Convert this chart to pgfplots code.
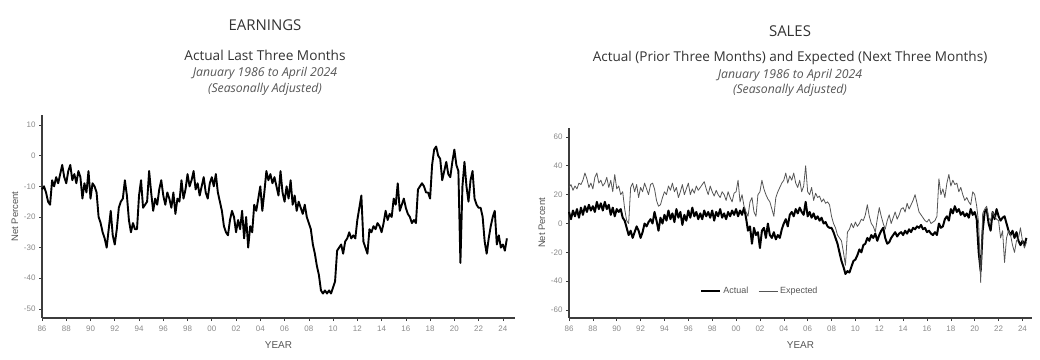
\documentclass[border=0pt]{standalone}
\usepackage{pgfplots}
\pgfplotsset{compat=1.18}
\usepackage{pgfplotstable}
\usepackage{fontspec}
\setmainfont{Open Sans}
\newfontfamily\arial{Liberation Sans}
\definecolor{ttl}{HTML}{333333}
\definecolor{sub}{HTML}{555555}
\definecolor{tick}{HTML}{8A8A8A}
\definecolor{axl}{HTML}{3C3C3C}
\definecolor{expc}{HTML}{555555}

% Earnings, net percent, 6 readings per year from Jan 1986
\pgfplotstableread[header=false,row sep=\\]{
-11\\-10\\-12\\-15\\-16\\-8\\
-10\\-7\\-9\\-6\\-3\\-7\\
-9\\-5\\-3\\-8\\-6\\-9\\
-5\\-7\\-14\\-9\\-12\\-5\\
-14\\-9\\-10\\-12\\-20\\-22\\
-25\\-27\\-30\\-24\\-18\\-26\\
-29\\-24\\-17\\-15\\-14\\-8\\
-13\\-21\\-25\\-22\\-24\\-24\\
-13\\-8\\-17\\-16\\-15\\-5\\
-12\\-18\\-14\\-16\\-11\\-8\\
-13\\-16\\-12\\-14\\-17\\-12\\
-19\\-14\\-15\\-8\\-14\\-11\\
-6\\-10\\-8\\-5\\-11\\-9\\
-13\\-10\\-7\\-12\\-14\\-9\\
-7\\-10\\-6\\-12\\-15\\-18\\
-23\\-25\\-26\\-21\\-18\\-20\\
-25\\-21\\-24\\-18\\-27\\-20\\
-30\\-23\\-25\\-16\\-18\\-14\\
-10\\-18\\-12\\-5\\-8\\-6\\
-9\\-7\\-10\\-13\\-5\\-12\\
-15\\-10\\-14\\-8\\-16\\-13\\
-18\\-15\\-17\\-19\\-16\\-20\\
-22\\-24\\-29\\-32\\-36\\-39\\
-44\\-45\\-44\\-45\\-44\\-45\\
-43\\-41\\-31\\-30\\-29\\-32\\
-28\\-27\\-25\\-27\\-26\\-27\\
-21\\-17\\-13\\-28\\-30\\-32\\
-24\\-25\\-23\\-24\\-22\\-23\\
-25\\-22\\-18\\-21\\-19\\-20\\
-14\\-16\\-9\\-18\\-16\\-14\\
-17\\-19\\-20\\-22\\-21\\-22\\
-11\\-10\\-9\\-10\\-12\\-12\\
-14\\-3\\2\\3\\0\\-1\\
-8\\-5\\-2\\-6\\-7\\-2\\
2\\-3\\-5\\-35\\-10\\-2\\
-10\\-15\\-8\\-5\\-14\\-16\\
-17\\-17\\-20\\-28\\-32\\-27\\
-23\\-20\\-18\\-29\\-26\\-30\\
-29\\-31\\-27\\
}\earn

% Sales actual
\pgfplotstableread[header=false,row sep=\\]{
8\\3\\9\\5\\10\\4\\
11\\6\\12\\8\\13\\9\\
12\\8\\15\\10\\14\\9\\
15\\10\\13\\6\\11\\5\\
10\\8\\10\\4\\2\\-3\\
-8\\-5\\-10\\-6\\-2\\-5\\
-10\\-6\\0\\-2\\1\\3\\
0\\8\\2\\-5\\4\\0\\
6\\2\\9\\3\\7\\1\\
10\\4\\8\\-1\\6\\2\\
9\\4\\11\\5\\8\\3\\
7\\3\\9\\5\\8\\4\\
9\\2\\8\\5\\10\\4\\
7\\3\\8\\5\\9\\6\\
10\\5\\9\\6\\11\\4\\
-5\\-2\\-14\\-3\\-8\\-6\\
-17\\-5\\-3\\-10\\0\\-8\\
-10\\-6\\-11\\-8\\-10\\-4\\
0\\3\\-2\\6\\8\\5\\
10\\7\\11\\8\\6\\15\\
5\\8\\4\\7\\3\\5\\
2\\4\\0\\1\\-2\\-3\\
-3\\-6\\-10\\-14\\-20\\-26\\
-30\\-35\\-33\\-34\\-30\\-26\\
-25\\-22\\-18\\-20\\-15\\-14\\
-10\\-12\\-8\\-10\\-7\\-12\\
-8\\-5\\-3\\-10\\-14\\-13\\
-10\\-8\\-6\\-9\\-7\\-6\\
-8\\-5\\-7\\-4\\-6\\-3\\
-4\\-2\\-3\\-1\\-4\\-3\\
-6\\-5\\-7\\-8\\-6\\-8\\
0\\-3\\-2\\3\\5\\2\\
10\\7\\12\\8\\10\\6\\
8\\5\\7\\4\\10\\6\\
8\\3\\-20\\-33\\-5\\8\\
10\\0\\-5\\8\\3\\10\\
5\\2\\4\\5\\0\\-5\\
-8\\-5\\-10\\-6\\-12\\-15\\
-12\\-15\\-10\\
}\sact

% Sales expected
\pgfplotstableread[header=false,row sep=\\]{
25\\27\\23\\26\\24\\28\\
27\\30\\35\\31\\25\\28\\
24\\32\\35\\28\\30\\26\\
28\\32\\25\\30\\22\\34\\
24\\26\\20\\22\\10\\2\\
0\\25\\28\\22\\27\\18\\
25\\22\\28\\24\\20\\27\\
28\\24\\16\\12\\13\\18\\
22\\20\\26\\23\\28\\22\\
25\\18\\22\\27\\20\\24\\
28\\20\\24\\21\\26\\23\\
25\\27\\29\\24\\20\\26\\
22\\19\\23\\20\\18\\22\\
20\\16\\22\\18\\15\\21\\
22\\30\\15\\20\\12\\8\\
5\\15\\18\\8\\5\\20\\
22\\30\\24\\20\\17\\15\\
10\\5\\18\\22\\25\\28\\
30\\35\\28\\33\\30\\35\\
28\\25\\30\\22\\26\\40\\
22\\20\\25\\16\\21\\18\\
19\\15\\17\\14\\15\\13\\
5\\0\\-3\\-8\\-10\\-12\\
-20\\-29\\-6\\-4\\0\\-3\\
1\\-2\\0\\3\\2\\6\\
13\\5\\0\\-2\\-6\\3\\
11\\5\\0\\-4\\2\\6\\
0\\4\\8\\3\\6\\10\\
11\\8\\14\\10\\13\\16\\
20\\14\\8\\6\\4\\2\\
1\\3\\0\\1\\2\\5\\
31\\20\\24\\18\\28\\34\\
26\\30\\27\\28\\22\\25\\
20\\16\\18\\15\\13\\22\\
20\\12\\0\\-41\\7\\10\\
12\\4\\2\\8\\5\\3\\
2\\-10\\-5\\-27\\-10\\-5\\
-8\\-15\\-20\\-12\\-10\\-3\\
-12\\-17\\-13\\
}\sexp

\pgfplotsset{
  panel/.style={
    scale only axis,
    anchor=south west,
    axis x line*=bottom,
    axis y line*=left,
    axis line style={-, draw=axl, line width=1.1bp},
    tick align=outside,
    major tick length=3bp,
    tick style={draw=axl, line width=0.6bp},
    xtick={1986,1988,...,2024},
    xticklabels={86,88,90,92,94,96,98,00,02,04,06,08,10,12,14,16,18,20,22,24},
    xmin=1986,
    /pgf/number format/assume math mode=true,
    tick label style={font=\arial\fontsize{8}{9}\selectfont, text=tick},
    x tick label style={yshift=-1.5bp},
    xlabel={YEAR},
    ylabel={Net Percent},
    xlabel style={font=\arial\fontsize{10}{11}\selectfont, text=sub, yshift=-3bp},
    ylabel style={font=\arial\fontsize{9.5}{10}\selectfont, text=sub, yshift=-1bp},
    clip=false,
  }
}

\begin{document}
\begin{tikzpicture}
\path[use as bounding box] (0,0) rectangle (1040bp,360bp);

\begin{axis}[panel,
  at={(42bp,42bp)}, width=473bp, height=203bp,
  xmax=2025, ymin=-53, ymax=13.3,
  ytick={-50,-40,...,10}]
\addplot[black, line width=1.9bp, line join=round] table[x expr={1986+\coordindex/6}, y index=0] {\earn};
\end{axis}

\begin{axis}[panel,
  at={(569bp,42bp)}, width=463bp, height=190bp,
  xmax=2024.8, ymin=-65.5, ymax=66.2,
  ytick={-60,-40,...,60},
  legend style={at={(axis cs:2002,-47)}, anchor=center, draw=none, fill=none,
    font=\arial\fontsize{9}{10}\selectfont, text=sub, legend columns=2,
    /tikz/every even column/.append style={column sep=8bp}},
  legend image code/.code={\draw[#1] (0bp,0bp) -- (19bp,0bp);}]
\addplot[black, line width=2bp, line join=round] table[x expr={1986+\coordindex/6}, y index=0] {\sact};
\addlegendentry{Actual}
\addplot[expc, line width=0.8bp, line join=round] table[x expr={1986+\coordindex/6}, y index=0] {\sexp};
\addlegendentry{Expected}
\end{axis}

\node[font=\fontsize{15}{17}\selectfont, text=ttl] at (265bp,335bp) {EARNINGS};
\node[font=\fontsize{13.7}{15}\selectfont, text=ttl] at (265bp,305bp) {Actual Last Three Months};
\node[font=\itshape\fontsize{12.3}{13}\selectfont, text=sub] at (265bp,287bp) {January 1986 to April 2024};
\node[font=\itshape\fontsize{12.3}{13}\selectfont, text=sub] at (265bp,271bp) {(Seasonally Adjusted)};

\node[font=\fontsize{15}{17}\selectfont, text=ttl] at (790bp,329bp) {SALES};
\node[font=\fontsize{13.6}{15}\selectfont, text=ttl] at (790bp,302bp) {Actual (Prior Three Months) and Expected (Next Three Months)};
\node[font=\itshape\fontsize{12.3}{13}\selectfont, text=sub] at (790bp,285bp) {January 1986 to April 2024};
\node[font=\itshape\fontsize{12.3}{13}\selectfont, text=sub] at (790bp,270bp) {(Seasonally Adjusted)};
\end{tikzpicture}
\end{document}
